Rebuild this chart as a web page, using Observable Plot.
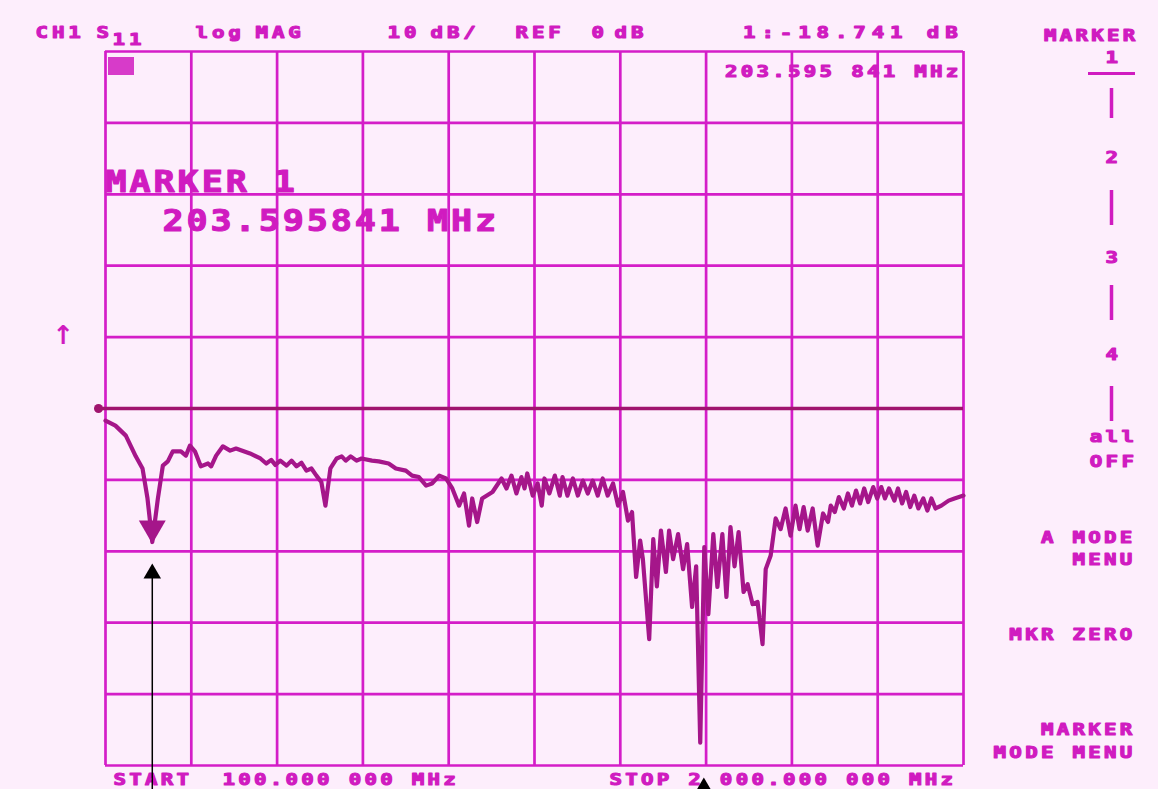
<!DOCTYPE html>
<html><head><meta charset="utf-8">
<script src="https://cdn.jsdelivr.net/npm/d3@7"></script>
<script src="https://cdn.jsdelivr.net/npm/@observablehq/plot@0.6"></script>
<style>
html,body{margin:0;padding:0;background:#fdeefc;overflow:hidden;}
#chart svg{display:block;}
</style></head><body><div id="chart"></div>
<script>
const freqMHz = [
  100, 122, 145, 167, 182, 193, 203.6, 216, 227, 238,
  249, 267, 278, 287, 298, 311, 327, 334, 345, 360,
  376, 389, 420, 443, 456, 467, 476, 487, 501, 512,
  523, 534, 545, 556, 567, 578, 587, 598, 612, 623,
  632, 643, 656, 667, 690, 705, 727, 743, 765, 779,
  794, 810, 823, 839, 854, 868, 883, 894, 905, 912,
  923, 934, 957, 977, 988, 999, 1010, 1021, 1028, 1034,
  1046, 1057, 1066, 1072, 1083, 1095, 1106, 1112, 1123, 1135,
  1146, 1157, 1168, 1179, 1190, 1201, 1212, 1224, 1235, 1246,
  1257, 1266, 1275, 1284, 1290, 1304, 1313, 1321, 1330, 1341,
  1348, 1357, 1368, 1379, 1388, 1399, 1408, 1417, 1426, 1435,
  1446, 1455, 1466, 1475, 1484, 1493, 1502, 1513, 1522, 1533,
  1544, 1555, 1562, 1573, 1584, 1595, 1606, 1617, 1628, 1637,
  1646, 1655, 1666, 1677, 1689, 1700, 1706, 1715, 1724, 1735,
  1744, 1753, 1762, 1771, 1780, 1789, 1800, 1809, 1818, 1826,
  1835, 1847, 1855, 1864, 1873, 1882, 1891, 1900, 1911, 1920,
  1929, 1938, 1951, 1967, 1980, 2000
];
const s11dB = [
  -1.7, -2.4, -3.8, -6.7, -8.4, -12.6, -18.7, -12.6, -8.0, -7.4,
  -6.0, -6.0, -6.6, -5.2, -6.0, -8.1, -7.7, -8.1, -6.6, -5.3,
  -5.9, -5.6, -6.3, -7.0, -7.7, -7.2, -7.9, -7.3, -8.0, -7.3,
  -8.1, -7.6, -8.7, -8.4, -9.4, -10.3, -13.6, -8.4, -7.0, -6.7,
  -7.3, -6.7, -7.3, -7.0, -7.3, -7.4, -7.7, -8.4, -8.7, -9.4,
  -9.6, -10.8, -10.5, -9.4, -9.8, -11.2, -13.6, -11.9, -16.4, -12.6,
  -15.9, -12.6, -11.7, -9.8, -11.2, -9.4, -11.9, -9.6, -11.2, -9.1,
  -12.2, -10.5, -13.6, -9.8, -11.9, -9.4, -12.2, -9.6, -12.2, -9.8,
  -12.2, -10.1, -11.9, -10.1, -12.2, -9.8, -12.2, -10.5, -13.6, -11.7,
  -15.7, -14.5, -23.6, -18.5, -21.1, -32.3, -18.3, -24.9, -17.1, -22.9,
  -17.1, -21.1, -17.6, -22.5, -19.0, -27.8, -22.1, -46.8, -19.4, -28.8,
  -17.6, -25.0, -17.6, -26.4, -16.6, -22.1, -17.3, -25.7, -24.6, -27.4,
  -27.1, -33.0, -22.5, -20.6, -15.4, -16.9, -14.0, -17.8, -13.6, -16.9,
  -13.8, -17.1, -14.0, -19.2, -14.7, -15.9, -13.6, -14.5, -12.4, -14.0,
  -11.9, -13.6, -11.5, -13.3, -11.2, -13.1, -11.0, -12.6, -11.0, -12.6,
  -11.2, -12.9, -11.2, -13.3, -11.7, -13.8, -12.2, -14.0, -12.6, -14.3,
  -12.6, -14.0, -13.6, -12.9, -12.6, -12.2
];
const startMHz = 100, stopMHz = 2000;
const refDb = 0, dbPerDiv = 10, divisions = 10;
const marker1MHz = 203.595841, marker1Db = -18.741;
const arrowTargetsMHz = [marker1MHz, 1425];

const headerTexts = ["CH1", "S", "11", "log", "MAG", "10", "dB/", "REF", "0", "dB"];
const markerReadout = "1:-18.741 dB";
const markerFreqText = "203.595 841 MHz";
const bigTexts = ["MARKER 1", "203.595841 MHz"];
const menuTexts = ["MARKER", "A MODE", "MENU", "MKR ZERO", "MARKER", "MODE MENU"];
const markerNumbers = ["1", "2", "3", "4", "all", "OFF"];
const footerTexts = ["START", "100.000 000 MHz", "STOP 2 000.000 000 MHz"];

// ---- layout ----
const W = 1158, H = 789, mL = 105, mR = 195, mT = 51, mB = 24;
const topDb = refDb + dbPerDiv * divisions / 2, bottomDb = refDb - dbPerDiv * divisions / 2;
const px2x = px => startMHz + (px - mL) / (W - mL - mR) * (stopMHz - startMHz);
const px2y = py => topDb - (py - mT) / (H - mT - mB) * (topDb - bottomDb);

const BG = "#fdeefc", GRID = "#d41dc8", TEXT = "#d01bc0", TRACE = "#a5168a", REF = "#a0146e";
const FONT = "DejaVu Sans Mono";

const trace = freqMHz.map((f, i) => ({f, db: s11dB[i]}));
const xGrid = d3.range(divisions + 1).map(i => startMHz + i * (stopMHz - startMHz) / divisions);
const yGrid = d3.range(divisions + 1).map(i => bottomDb + i * dbPerDiv);

const hdrPos = [[35,37],[96,37],[112,44],[195,37],[255,37],[387,37],[430,37],[515,37],[591,37],[614,37]];
const hdrStart = headerTexts.map((t, i) => ({t, px: hdrPos[i][0], py: hdrPos[i][1]}));
const hdrEnd = [{t: markerReadout, px: 963, py: 37}];
const stdEnd = [
  {t: markerFreqText, px: 961, py: 76},
  {t: menuTexts[0], px: 1138, py: 40},
  {t: menuTexts[1], px: 1135, py: 542},
  {t: menuTexts[2], px: 1135, py: 564},
  {t: menuTexts[3], px: 1135, py: 639},
  {t: menuTexts[4], px: 1135, py: 734},
  {t: menuTexts[5], px: 1135, py: 757}
];
const numPy = [62, 162, 262, 359, 441, 466];
const stdMid = markerNumbers.map((t, i) => ({t, px: 1113, py: numPy[i]}));
const stdStart = [
  {t: footerTexts[0], px: 113, py: 784},
  {t: footerTexts[1], px: 222, py: 784},
  {t: footerTexts[2], px: 609, py: 784}
];
const bigStart = [{t: bigTexts[0], px: 105, py: 191}, {t: bigTexts[1], px: 162, py: 230}];
const menuBars = [[88,118],[190,225],[285,320],[386,421]];

const txt = (data, anchor, size) => Plot.text(data, {
  x: d => px2x(d.px), y: d => px2y(d.py), text: "t",
  textAnchor: anchor, lineAnchor: "bottom", fontSize: size, fontWeight: "bold",
  fontFamily: FONT, fill: TEXT, stroke: TEXT, strokeWidth: 1.1
});

const chart = Plot.plot({
  width: W, height: H,
  marginLeft: mL, marginRight: mR, marginTop: mT, marginBottom: mB,
  style: {background: BG, fontFamily: FONT},
  x: {domain: [startMHz, stopMHz], axis: null},
  y: {domain: [bottomDb, topDb], axis: null},
  marks: [
    Plot.ruleX(xGrid, {x: d => d, stroke: GRID, strokeWidth: 2.7}),
    Plot.ruleY(yGrid, {y: d => d, stroke: GRID, strokeWidth: 2.7}),
    Plot.ruleY([refDb], {y: d => d, x1: () => px2x(98), x2: () => stopMHz, stroke: REF, strokeWidth: 3.5}),
    Plot.dot([refDb], {x: () => startMHz, y: d => d, dx: -7, r: 4.5, fill: REF}),
    Plot.line(trace, {x: "f", y: "db", stroke: TRACE, strokeWidth: 4.2, strokeLinejoin: "round", strokeLinecap: "round"}),
    Plot.dot([{f: marker1MHz, db: marker1Db}], {x: "f", y: "db", symbol: "triangle", rotate: 180, r: 10, dy: -14, fill: TRACE}),
    // icon box
    Plot.rect([0], {x1: () => px2x(108), x2: () => px2x(134), y1: () => px2y(57), y2: () => px2y(75), fill: TEXT, opacity: 0.85}),
    // left reference arrow
    Plot.text(["↑"], {x: () => px2x(63), y: () => px2y(343), text: d => d, fontSize: 26, fontFamily: "DejaVu Sans", fontWeight: "bold", fill: TEXT, lineAnchor: "bottom"}),
    // menu decorations
    Plot.ruleY([0], {y: () => px2y(73), x1: () => px2x(1088), x2: () => px2x(1135), stroke: TEXT, strokeWidth: 3}),
    Plot.ruleX(menuBars, {x: () => px2x(1111), y1: d => px2y(d[0]), y2: d => px2y(d[1]), stroke: TEXT, strokeWidth: 3.5}),
    txt(hdrStart, "start", 16),
    txt(hdrEnd, "end", 16),
    txt(stdEnd, "end", 16),
    txt(stdMid, "middle", 16),
    txt(stdStart, "start", 16),
    txt(bigStart, "start", 30),
    // black annotation arrows
    Plot.ruleX(arrowTargetsMHz, {x: d => d, y1: () => px2y(789), y2: (d, i) => px2y(i === 0 ? 575 : 785), stroke: "black", strokeWidth: 1.5}),
    Plot.dot(arrowTargetsMHz, {x: d => d, y: (d, i) => px2y(i === 0 ? 563 : 777), symbol: "triangle", r: 6.5, dy: 10, fill: "black"})
  ]
});

// instrument font: wide, heavy glyphs -> horizontal stretch + letter spacing
const hdrSet = new Set(headerTexts), bigSet = new Set(bigTexts);
d3.select(chart).selectAll("text").each(function() {
  const t = this.textContent;
  if (t === "↑") return;
  let sx = 1.3, ls = 2.5;
  if (bigSet.has(t)) { sx = 1.17; ls = 2.5; }
  else if (t === markerReadout) { ls = 4.5; }
  else if (hdrSet.has(t)) { ls = 3; }
  this.style.letterSpacing = ls + "px";
  const tr = this.getAttribute("transform");
  if (tr && tr.includes("translate")) {
    this.setAttribute("transform", tr + ` scale(${sx},1)`);
  } else {
    const x = +(this.getAttribute("x") || 0), y = +(this.getAttribute("y") || 0);
    this.setAttribute("transform", `translate(${x},${y}) scale(${sx},1) translate(${-x},${-y})`);
  }
});
document.getElementById("chart").appendChild(chart);
</script></body></html>
